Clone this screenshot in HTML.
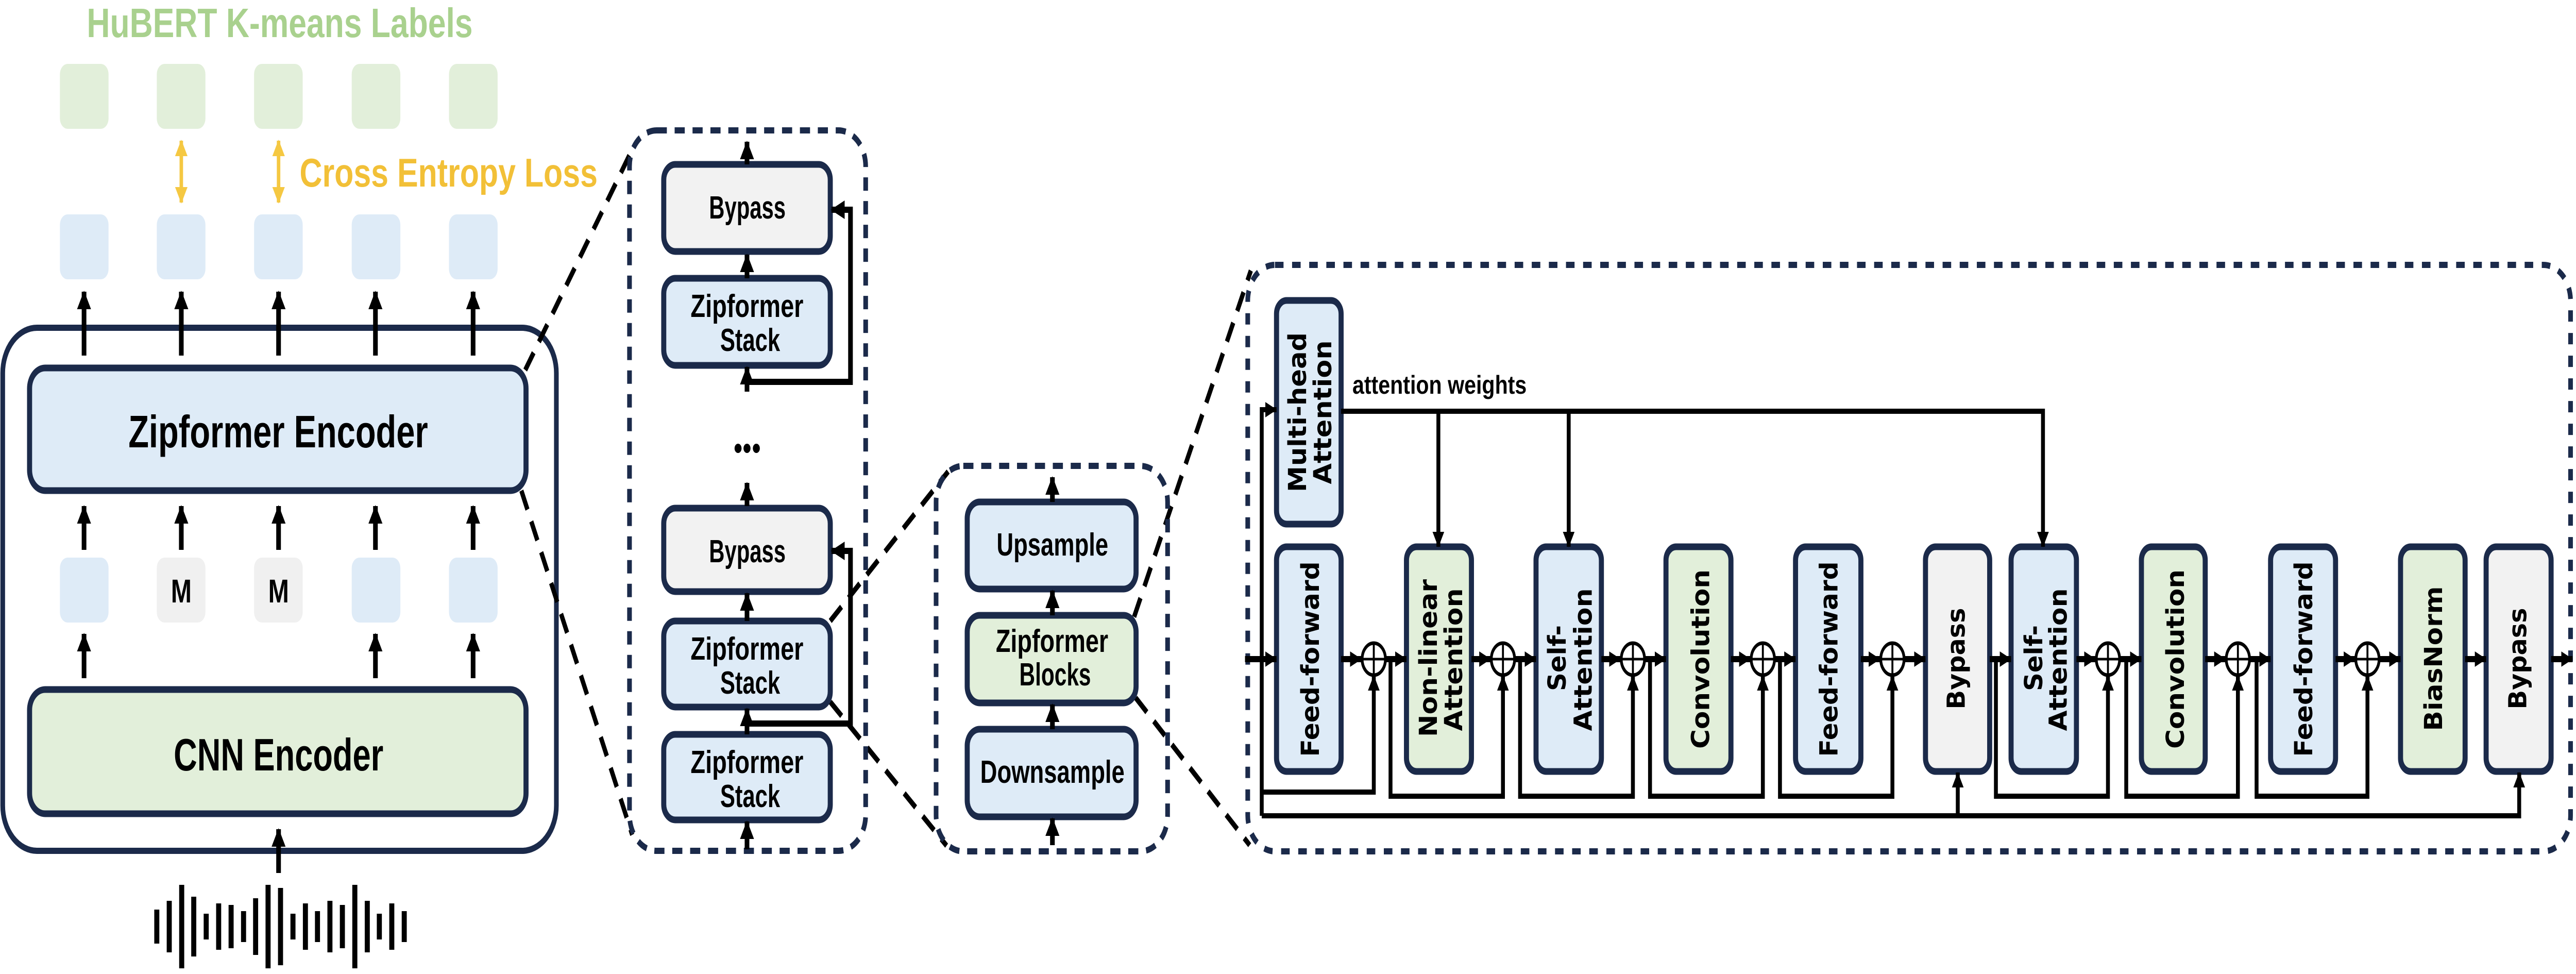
<!DOCTYPE html>
<html><head><meta charset="utf-8">
<style>html,body{margin:0;padding:0;background:#fff;width:100vw;height:100vh;overflow:hidden}svg{display:block;position:absolute;left:0;top:0;width:100vw;height:100vh}</style></head>
<body>
<svg xmlns="http://www.w3.org/2000/svg" viewBox="0 0 6621 1890" preserveAspectRatio="none" overflow="hidden">
<defs>
<marker id="a" markerWidth="36" markerHeight="36" refX="34" refY="18" orient="auto" markerUnits="userSpaceOnUse"><path d="M0,0 L36,18 L0,36z" fill="#000"/></marker>
<marker id="b" markerWidth="30" markerHeight="30" refX="29" refY="15" orient="auto" markerUnits="userSpaceOnUse"><path d="M0,0 L30,15 L0,30z" fill="#000"/></marker>
<marker id="y" markerWidth="32" markerHeight="32" refX="30" refY="16" orient="auto" markerUnits="userSpaceOnUse"><path d="M0,0 L32,16 L0,32z" fill="#f5c842"/></marker>
<marker id="ys" markerWidth="32" markerHeight="32" refX="2" refY="16" orient="auto" markerUnits="userSpaceOnUse"><path d="M32,0 L0,16 L32,32z" fill="#f5c842"/></marker>
</defs>
<g font-family="Liberation Sans, sans-serif" font-weight="bold">
<text x="719" y="72" font-size="80" fill="#a9d18e" text-anchor="middle" textLength="992" lengthAdjust="spacingAndGlyphs">HuBERT K-means Labels</text>
<g fill="#e2efda">
<rect x="154" y="124" width="125" height="126" rx="20"/><rect x="403" y="124" width="125" height="126" rx="20"/><rect x="653" y="124" width="125" height="126" rx="20"/><rect x="904" y="124" width="125" height="126" rx="20"/><rect x="1154" y="124" width="125" height="126" rx="20"/>
</g>
<g stroke="#f5c842" stroke-width="9">
<line x1="466" y1="273" x2="466" y2="393" marker-start="url(#ys)" marker-end="url(#y)"/>
<line x1="716" y1="273" x2="716" y2="393" marker-start="url(#ys)" marker-end="url(#y)"/>
</g>
<text x="1153" y="362" font-size="78" fill="#f2c037" text-anchor="middle" textLength="766" lengthAdjust="spacingAndGlyphs">Cross Entropy Loss</text>
<g fill="#deebf7">
<rect x="154" y="416" width="125" height="126" rx="20"/><rect x="403" y="416" width="125" height="126" rx="20"/><rect x="653" y="416" width="125" height="126" rx="20"/><rect x="904" y="416" width="125" height="126" rx="20"/><rect x="1154" y="416" width="125" height="126" rx="20"/>
<rect x="154" y="1082" width="125" height="126" rx="20"/><rect x="904" y="1082" width="125" height="126" rx="20"/><rect x="1154" y="1082" width="125" height="126" rx="20"/>
</g>
<g fill="#f0f0f0"><rect x="403" y="1082" width="125" height="126" rx="20"/><rect x="653" y="1082" width="125" height="126" rx="20"/></g>
<text x="466" y="1169" font-size="64" text-anchor="middle">M</text>
<text x="716" y="1169" font-size="64" text-anchor="middle">M</text>
<rect x="7" y="636" width="1423" height="1015" rx="88" fill="none" stroke="#1b2a4a" stroke-width="12"/>
<rect x="76" y="714" width="1276" height="238" rx="40" fill="#deebf7" stroke="#1b2a4a" stroke-width="13"/>
<text x="715" y="868" font-size="88" text-anchor="middle" textLength="770" lengthAdjust="spacingAndGlyphs">Zipformer Encoder</text>
<rect x="76" y="1338" width="1276" height="241" rx="40" fill="#e2efda" stroke="#1b2a4a" stroke-width="13"/>
<text x="716" y="1495" font-size="88" text-anchor="middle" textLength="539" lengthAdjust="spacingAndGlyphs">CNN Encoder</text>
<g stroke="#000" stroke-width="12" marker-end="url(#a)">
<line x1="216" y1="690" x2="216" y2="566"/><line x1="466" y1="690" x2="466" y2="566"/><line x1="716" y1="690" x2="716" y2="566"/><line x1="965" y1="690" x2="965" y2="566"/><line x1="1216" y1="690" x2="1216" y2="566"/>
<line x1="216" y1="1067" x2="216" y2="982"/><line x1="466" y1="1067" x2="466" y2="982"/><line x1="716" y1="1067" x2="716" y2="982"/><line x1="965" y1="1067" x2="965" y2="982"/><line x1="1216" y1="1067" x2="1216" y2="982"/>
<line x1="216" y1="1316" x2="216" y2="1230"/><line x1="965" y1="1316" x2="965" y2="1230"/><line x1="1216" y1="1316" x2="1216" y2="1230"/>
<line x1="716" y1="1694" x2="716" y2="1609"/>
</g>
<g stroke="#000" stroke-width="13">
<line x1="403" y1="1765" x2="403" y2="1831"/><line x1="435" y1="1748" x2="435" y2="1848"/><line x1="467" y1="1717" x2="467" y2="1879"/><line x1="498" y1="1740" x2="498" y2="1856"/><line x1="530" y1="1773" x2="530" y2="1823"/><line x1="562" y1="1753" x2="562" y2="1843"/><line x1="594" y1="1756" x2="594" y2="1840"/><line x1="626" y1="1768" x2="626" y2="1828"/><line x1="657" y1="1743" x2="657" y2="1853"/><line x1="689" y1="1717" x2="689" y2="1879"/><line x1="721" y1="1723" x2="721" y2="1873"/><line x1="753" y1="1773" x2="753" y2="1823"/><line x1="785" y1="1753" x2="785" y2="1843"/><line x1="816" y1="1768" x2="816" y2="1828"/><line x1="848" y1="1748" x2="848" y2="1848"/><line x1="880" y1="1756" x2="880" y2="1840"/><line x1="912" y1="1717" x2="912" y2="1879"/><line x1="944" y1="1748" x2="944" y2="1848"/><line x1="975" y1="1773" x2="975" y2="1823"/><line x1="1007" y1="1753" x2="1007" y2="1843"/><line x1="1039" y1="1768" x2="1039" y2="1828"/>
</g>
<g stroke="#000" stroke-width="11" stroke-dasharray="40 25" fill="none">
<line x1="1350" y1="718" x2="1625" y2="290"/><line x1="1340" y1="952" x2="1625" y2="1620"/>
<line x1="2134" y1="1205" x2="2437" y2="915"/><line x1="2134" y1="1362" x2="2433" y2="1641"/>
<line x1="2915" y1="1197" x2="3215" y2="525"/><line x1="2919" y1="1354" x2="3212" y2="1640"/>
</g>
<rect x="1618" y="253" width="607" height="1398" rx="70" fill="none" stroke="#1b2a4a" stroke-width="12" stroke-dasharray="26 20"/>
<g stroke="#1b2a4a" stroke-width="13">
<rect x="1706" y="319" width="428" height="169" rx="30" fill="#f2f2f2"/>
<rect x="1706" y="540" width="428" height="169" rx="30" fill="#deebf7"/>
<rect x="1706" y="986" width="428" height="162" rx="30" fill="#f2f2f2"/>
<rect x="1706" y="1205" width="428" height="167" rx="30" fill="#deebf7"/>
<rect x="1706" y="1425" width="428" height="166" rx="30" fill="#deebf7"/>
</g>
<text x="1921" y="424" font-size="62" text-anchor="middle" textLength="197" lengthAdjust="spacingAndGlyphs">Bypass</text>
<text x="1921" y="1091" font-size="62" text-anchor="middle" textLength="197" lengthAdjust="spacingAndGlyphs">Bypass</text>
<g font-size="62" text-anchor="middle">
<text x="1920" y="615" textLength="290" lengthAdjust="spacingAndGlyphs">Zipformer</text><text x="1928" y="681" textLength="154" lengthAdjust="spacingAndGlyphs">Stack</text>
<text x="1920" y="1280" textLength="290" lengthAdjust="spacingAndGlyphs">Zipformer</text><text x="1928" y="1346" textLength="154" lengthAdjust="spacingAndGlyphs">Stack</text>
<text x="1920" y="1500" textLength="290" lengthAdjust="spacingAndGlyphs">Zipformer</text><text x="1928" y="1566" textLength="154" lengthAdjust="spacingAndGlyphs">Stack</text>
</g>
<circle cx="1897" cy="870" r="9"/><circle cx="1920" cy="870" r="9"/><circle cx="1944" cy="870" r="9"/>
<g stroke="#000" stroke-width="12" fill="none" marker-end="url(#a)">
<line x1="1920" y1="319" x2="1920" y2="275"/>
<line x1="1920" y1="540" x2="1920" y2="494"/>
<line x1="1920" y1="760" x2="1920" y2="712"/>
<line x1="1920" y1="982" x2="1920" y2="937"/>
<line x1="1920" y1="1205" x2="1920" y2="1151"/>
<line x1="1920" y1="1425" x2="1920" y2="1375"/>
<line x1="1920" y1="1648" x2="1920" y2="1594"/>
<polyline points="1920,741 2186,741 2186,407 2137,407"/>
<polyline points="1920,1404 2186,1404 2186,1069 2137,1069"/>
</g>
<rect x="2406" y="904" width="595" height="748" rx="70" fill="none" stroke="#1b2a4a" stroke-width="12" stroke-dasharray="26 20"/>
<g stroke="#1b2a4a" stroke-width="13">
<rect x="2486" y="974" width="434" height="169" rx="32" fill="#deebf7"/>
<rect x="2486" y="1194" width="434" height="170" rx="32" fill="#e2efda"/>
<rect x="2486" y="1415" width="434" height="170" rx="32" fill="#deebf7"/>
</g>
<g font-size="62" text-anchor="middle">
<text x="2705" y="1078" textLength="287" lengthAdjust="spacingAndGlyphs">Upsample</text>
<text x="2704" y="1265" textLength="289" lengthAdjust="spacingAndGlyphs">Zipformer</text>
<text x="2712" y="1330" textLength="184" lengthAdjust="spacingAndGlyphs">Blocks</text>
<text x="2705" y="1519" textLength="371" lengthAdjust="spacingAndGlyphs">Downsample</text>
</g>
<g stroke="#000" stroke-width="12" marker-end="url(#a)">
<line x1="2705" y1="974" x2="2705" y2="926"/>
<line x1="2705" y1="1194" x2="2705" y2="1146"/>
<line x1="2705" y1="1415" x2="2705" y2="1367"/>
<line x1="2705" y1="1640" x2="2705" y2="1588"/>
</g>
<rect x="3207" y="514" width="3400" height="1138" rx="70" fill="none" stroke="#1b2a4a" stroke-width="12" stroke-dasharray="22 22"/>
<g stroke="#1b2a4a" stroke-width="13">
<rect x="3281" y="583" width="166" height="434" rx="26" fill="#deebf7"/>
<rect x="3281" y="1061" width="166" height="436" rx="26" fill="#deebf7"/>
<rect x="3615" y="1061" width="167" height="436" rx="26" fill="#e2efda"/>
<rect x="3948" y="1061" width="168" height="436" rx="26" fill="#deebf7"/>
<rect x="4282" y="1061" width="167" height="436" rx="26" fill="#e2efda"/>
<rect x="4615" y="1061" width="168" height="436" rx="26" fill="#deebf7"/>
<rect x="4949" y="1061" width="165" height="436" rx="26" fill="#f2f2f2"/>
<rect x="5169" y="1061" width="168" height="436" rx="26" fill="#deebf7"/>
<rect x="5504" y="1061" width="164" height="436" rx="26" fill="#e2efda"/>
<rect x="5836" y="1061" width="167" height="436" rx="26" fill="#deebf7"/>
<rect x="6170" y="1061" width="166" height="436" rx="26" fill="#e2efda"/>
<rect x="6390" y="1061" width="167" height="436" rx="26" fill="#f2f2f2"/>
</g>
<g font-family="DejaVu Sans, sans-serif" font-weight="bold" font-size="64" text-anchor="middle">
<text transform="translate(3357,800) rotate(-90)" textLength="310" lengthAdjust="spacingAndGlyphs">Multi-head</text>
<text transform="translate(3422,800) rotate(-90)" textLength="279" lengthAdjust="spacingAndGlyphs">Attention</text>
<text transform="translate(3390,1279) rotate(-90)" textLength="379" lengthAdjust="spacingAndGlyphs">Feed-forward</text>
<text transform="translate(3693,1277) rotate(-90)" textLength="306" lengthAdjust="spacingAndGlyphs">Non-linear</text>
<text transform="translate(3758,1280) rotate(-90)" textLength="277" lengthAdjust="spacingAndGlyphs">Attention</text>
<text transform="translate(4024,1277) rotate(-90)" textLength="128" lengthAdjust="spacingAndGlyphs">Self-</text>
<text transform="translate(4091,1280) rotate(-90)" textLength="277" lengthAdjust="spacingAndGlyphs">Attention</text>
<text transform="translate(4393,1279) rotate(-90)" textLength="348" lengthAdjust="spacingAndGlyphs">Convolution</text>
<text transform="translate(4723,1279) rotate(-90)" textLength="379" lengthAdjust="spacingAndGlyphs">Feed-forward</text>
<text transform="translate(5050,1278) rotate(-90)" textLength="197" lengthAdjust="spacingAndGlyphs">Bypass</text>
<text transform="translate(5249,1277) rotate(-90)" textLength="128" lengthAdjust="spacingAndGlyphs">Self-</text>
<text transform="translate(5312,1280) rotate(-90)" textLength="277" lengthAdjust="spacingAndGlyphs">Attention</text>
<text transform="translate(5613,1279) rotate(-90)" textLength="348" lengthAdjust="spacingAndGlyphs">Convolution</text>
<text transform="translate(5943,1279) rotate(-90)" textLength="379" lengthAdjust="spacingAndGlyphs">Feed-forward</text>
<text transform="translate(6277,1278) rotate(-90)" textLength="281" lengthAdjust="spacingAndGlyphs">BiasNorm</text>
<text transform="translate(6493,1278) rotate(-90)" textLength="197" lengthAdjust="spacingAndGlyphs">Bypass</text>
</g>
<text x="3476" y="764" font-size="50" textLength="448" lengthAdjust="spacingAndGlyphs">attention weights</text>
<g stroke="#000" stroke-width="12" marker-end="url(#b)">
<line x1="3200" y1="1279" x2="3281" y2="1279"/>
<line x1="3447" y1="1279" x2="3499" y2="1279"/><line x1="3563" y1="1279" x2="3615" y2="1279"/>
<line x1="3782" y1="1279" x2="3831" y2="1279"/><line x1="3895" y1="1279" x2="3948" y2="1279"/>
<line x1="4116" y1="1279" x2="4165" y2="1279"/><line x1="4229" y1="1279" x2="4282" y2="1279"/>
<line x1="4449" y1="1279" x2="4499" y2="1279"/><line x1="4563" y1="1279" x2="4615" y2="1279"/>
<line x1="4783" y1="1279" x2="4832" y2="1279"/><line x1="4896" y1="1279" x2="4949" y2="1279"/>
<line x1="5114" y1="1279" x2="5169" y2="1279"/>
<line x1="5337" y1="1279" x2="5386" y2="1279"/><line x1="5450" y1="1279" x2="5504" y2="1279"/>
<line x1="5668" y1="1279" x2="5720" y2="1279"/><line x1="5784" y1="1279" x2="5836" y2="1279"/>
<line x1="6003" y1="1279" x2="6053" y2="1279"/><line x1="6117" y1="1279" x2="6170" y2="1279"/>
<line x1="6336" y1="1279" x2="6390" y2="1279"/><line x1="6557" y1="1279" x2="6612" y2="1279"/>
</g>
<g stroke="#000" stroke-width="10" fill="none" marker-end="url(#b)">
<polyline points="3243,1583 3243,795 3281,795"/>
<polyline points="3243,1537 3531,1537 3531,1311"/>
<polyline points="3574,1279 3574,1545 3863,1545 3863,1311"/>
<polyline points="3907,1279 3907,1545 4197,1545 4197,1311"/>
<polyline points="4241,1279 4241,1545 4531,1545 4531,1311"/>
<polyline points="4575,1279 4575,1545 4864,1545 4864,1311"/>
<polyline points="5130,1279 5130,1545 5418,1545 5418,1311"/>
<polyline points="5465,1279 5465,1545 5752,1545 5752,1311"/>
<polyline points="5800,1279 5800,1545 6085,1545 6085,1311"/>
<polyline points="3243,1583 6475,1583 6475,1499"/>
<line x1="5032" y1="1583" x2="5032" y2="1499"/>
<polyline points="3447,798 5251,798 5251,1061"/>
<line x1="3697" y1="798" x2="3697" y2="1061"/>
<line x1="4032" y1="798" x2="4032" y2="1061"/>
</g>
<g fill="#fff" stroke="#000" stroke-width="7">
<ellipse cx="3531" cy="1279" rx="30" ry="31"/><ellipse cx="3863" cy="1279" rx="30" ry="31"/><ellipse cx="4197" cy="1279" rx="30" ry="31"/><ellipse cx="4531" cy="1279" rx="30" ry="31"/><ellipse cx="4864" cy="1279" rx="30" ry="31"/><ellipse cx="5418" cy="1279" rx="30" ry="31"/><ellipse cx="5752" cy="1279" rx="30" ry="31"/><ellipse cx="6085" cy="1279" rx="30" ry="31"/>
</g>
<g stroke="#000" stroke-width="5">
<path d="M3501,1279H3561M3531,1248V1310M3833,1279H3893M3863,1248V1310M4167,1279H4227M4197,1248V1310M4501,1279H4561M4531,1248V1310M4834,1279H4894M4864,1248V1310M5388,1279H5448M5418,1248V1310M5722,1279H5782M5752,1248V1310M6055,1279H6115M6085,1248V1310"/>
</g>
</g>
</svg>
</body></html>
